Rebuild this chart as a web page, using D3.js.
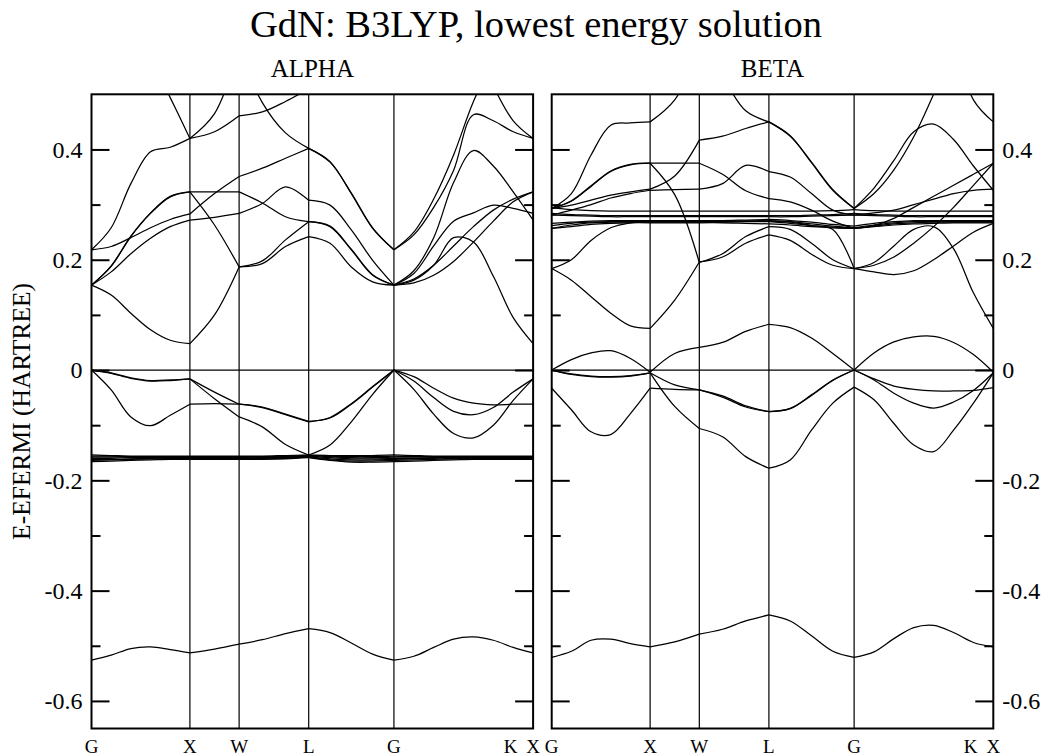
<!DOCTYPE html>
<html><head><meta charset="utf-8">
<script src="https://cdn.jsdelivr.net/npm/d3@7"></script>
<style>body{margin:0;background:#fff}</style>
</head><body>
<svg id="chart" width="1046" height="756"></svg>
<script>
// ---------------- data ----------------
// k-path distances of the sampled points (G X W L G K X)
const kPoints = [0,0.2,0.4,0.6,0.8,1.0, 1.25,1.5, 1.7357,1.9714,2.2071, 2.4236,2.6401,2.8567,3.0731, 3.2751,3.4772,3.6792,3.8812,4.0833,4.2853,4.4873];
const segmentBreaks = [0,5,7,10,14,21];
const kLabels = ["G","X","W","L","G","K","X"];
const kLabelPos = [0,1.0,1.5,2.2071,3.0731,4.258,4.4873];
const kLinePos = [1.0,1.5,2.2071,3.0731];
const yTickValues = [-0.6,-0.4,-0.2,0,0.2,0.4];
const yTickLabels = ["-0.6","-0.4","-0.2","0","0.2","0.4"];
const yMinorTicks = [-0.5,-0.3,-0.1,0.1,0.3];

// ALPHA bands (Hartree, relative to Fermi level)
const alphaN2s = [-0.526,-0.517,-0.505,-0.502,-0.507,-0.513, -0.506,-0.497, -0.489,-0.478,-0.469, -0.476,-0.495,-0.515,-0.526, -0.519,-0.503,-0.488,-0.484,-0.490,-0.503,-0.513];
const alphaP1 = [0,-0.006,-0.015,-0.020,-0.019,-0.016, -0.040,-0.062, -0.068,-0.081,-0.094, -0.086,-0.061,-0.030,0, -0.020,-0.050,-0.075,-0.081,-0.068,-0.040,-0.016];
const alphaP2 = [0,-0.005,-0.014,-0.019,-0.018,-0.016, -0.052,-0.085, -0.103,-0.135,-0.154, -0.136,-0.094,-0.044,0, -0.035,-0.080,-0.115,-0.123,-0.100,-0.055,-0.016];
const alphaP3 = [0,-0.036,-0.085,-0.101,-0.082,-0.062, -0.061,-0.062, -0.067,-0.080,-0.093, -0.087,-0.062,-0.031,0, -0.012,-0.033,-0.051,-0.060,-0.063,-0.062,-0.062];
const alphaF1 = [-0.154,-0.155,-0.156,-0.156,-0.156,-0.156, -0.156,-0.156, -0.156,-0.155,-0.154, -0.155,-0.155,-0.155,-0.154, -0.155,-0.156,-0.156,-0.156,-0.156,-0.156,-0.156];
const alphaF2 = [-0.156,-0.156,-0.157,-0.157,-0.157,-0.157, -0.157,-0.157, -0.157,-0.156,-0.155, -0.156,-0.157,-0.157,-0.156, -0.157,-0.157,-0.157,-0.157,-0.157,-0.157,-0.157];
const alphaF3 = [-0.158,-0.158,-0.158,-0.158,-0.158,-0.158, -0.158,-0.158, -0.158,-0.157,-0.155, -0.157,-0.159,-0.159,-0.158, -0.158,-0.158,-0.158,-0.158,-0.158,-0.158,-0.158];
const alphaF4 = [-0.160,-0.160,-0.159,-0.159,-0.159,-0.159, -0.159,-0.159, -0.159,-0.158,-0.156, -0.159,-0.161,-0.161,-0.160, -0.160,-0.159,-0.159,-0.159,-0.159,-0.159,-0.159];
const alphaF5 = [-0.162,-0.162,-0.161,-0.160,-0.160,-0.160, -0.160,-0.160, -0.160,-0.159,-0.157, -0.161,-0.163,-0.163,-0.162, -0.161,-0.160,-0.160,-0.160,-0.160,-0.160,-0.160];
const alphaF6 = [-0.164,-0.163,-0.162,-0.161,-0.161,-0.161, -0.161,-0.161, -0.161,-0.160,-0.158, -0.163,-0.165,-0.165,-0.164, -0.163,-0.162,-0.161,-0.161,-0.161,-0.161,-0.161];
const alphaF7 = [-0.166,-0.165,-0.164,-0.163,-0.162,-0.162, -0.162,-0.162, -0.162,-0.161,-0.159, -0.164,-0.167,-0.167,-0.166, -0.165,-0.164,-0.163,-0.162,-0.162,-0.162,-0.162];
const alphaC1 = [0.218,0.258,0.338,0.396,0.404,0.420, 0.432,0.461, 0.468,0.487,0.510, null,null,null,null, null,null,null,null,null,null,null];
const alphaC2 = [null,null,0.640,0.565,0.494,0.420, 0.465,0.580, 0.485,0.430,0.402, 0.378,0.320,0.257,0.218, 0.245,0.295,0.362,0.463,0.452,0.432,0.420];
const alphaC3 = [0.218,0.224,0.240,0.258,0.273,0.283, 0.320,0.351, 0.366,0.384,0.402, 0.377,0.321,0.258,0.218, 0.250,0.310,0.390,0.487,0.560,null,null];
const alphaC4 = [0.154,0.188,0.242,0.284,0.314,0.323, 0.323,0.323, 0.303,0.278,0.269, 0.260,0.218,0.172,0.154, 0.158,0.172,0.197,0.232,0.270,0.305,0.323];
const alphaC5 = [0.154,0.189,0.243,0.285,0.315,0.323, 0.263,0.187, 0.198,0.236,0.269, 0.261,0.219,0.173,0.154, 0.165,0.190,0.225,0.260,0.290,0.310,0.323];
const alphaC6 = [0.154,0.178,0.211,0.239,0.260,0.272, 0.277,0.284, 0.302,0.332,0.308, 0.299,0.254,0.199,0.154, 0.175,0.225,0.270,0.285,0.299,0.293,0.284];
const alphaC7 = [0.154,0.136,0.103,0.073,0.054,0.048, 0.100,0.187, 0.193,0.224,0.242, 0.230,0.187,0.160,0.154, 0.163,0.190,0.240,0.232,0.170,0.095,0.048];
const alphaC8 = [null,null,null,null,null,null, null,null, null,null,null, null,null,null,0.154, 0.180,0.240,0.340,0.398,0.370,0.323,0.272];
const alphaC9 = [null,null,null,null,null,null, null,null, null,null,null, null,null,null,null, null,null,null,0.600,0.515,0.452,0.420];

// BETA bands
const betaN2s = [-0.521,-0.510,-0.490,-0.488,-0.496,-0.502, -0.493,-0.479, -0.470,-0.455,-0.444, -0.455,-0.482,-0.510,-0.521, -0.511,-0.487,-0.467,-0.463,-0.476,-0.494,-0.502];
const betaB1 = [0,0.019,0.031,0.035,0.021,-0.004, 0.030,0.041, 0.050,0.070,0.083, 0.077,0.058,0.030,0, 0.031,0.051,0.060,0.061,0.050,0.028,-0.004];
const betaB2 = [0,-0.008,-0.012,-0.013,-0.011,-0.005, -0.027,-0.036, -0.047,-0.065,-0.0755, -0.0695,-0.045,-0.018,0, -0.018,-0.042,-0.060,-0.069,-0.058,-0.037,-0.005];
const betaB3 = [0,-0.007,-0.011,-0.012,-0.010,-0.005, -0.066,-0.106, -0.121,-0.157,-0.178, -0.163,-0.109,-0.060,-0.031, -0.054,-0.097,-0.136,-0.148,-0.109,-0.060,-0.005];
const betaB4 = [-0.033,-0.072,-0.112,-0.117,-0.079,-0.033, -0.035,-0.036, -0.049,-0.067,-0.0755, -0.0700,-0.046,-0.019,0, -0.016,-0.029,-0.035,-0.038,-0.038,-0.037,-0.032];
const betaF1 = [0.294,0.291,0.289,0.288,0.288,0.288, 0.288,0.288, 0.288,0.288,0.288, 0.288,0.288,0.289,0.291, 0.289,0.288,0.288,0.288,0.288,0.288,0.288];
const betaF2 = [0.284,0.282,0.281,0.280,0.280,0.280, 0.280,0.280, 0.280,0.280,0.280, 0.280,0.281,0.282,0.284, 0.282,0.281,0.280,0.280,0.280,0.280,0.280];
const betaF3 = [0.281,0.280,0.279,0.278,0.278,0.278, 0.278,0.278, 0.278,0.278,0.278, 0.278,0.279,0.280,0.281, 0.280,0.279,0.278,0.278,0.278,0.278,0.278];
const betaF4 = [0.266,0.268,0.270,0.271,0.271,0.271, 0.271,0.271, 0.271,0.272,0.273, 0.271,0.268,0.264,0.261, 0.266,0.269,0.271,0.271,0.271,0.271,0.271];
const betaF5 = [0.262,0.266,0.268,0.269,0.269,0.269, 0.269,0.269, 0.269,0.270,0.271, 0.269,0.265,0.261,0.258, 0.263,0.267,0.269,0.269,0.269,0.269,0.269];
const betaF6 = [0.257,0.263,0.267,0.268,0.268,0.268, 0.268,0.268, 0.268,0.269,0.269, 0.266,0.262,0.259,0.257, 0.261,0.265,0.267,0.268,0.268,0.268,0.268];
const betaF7 = [0.257,0.260,0.264,0.266,0.267,0.267, 0.267,0.267, 0.267,0.266,0.265, 0.263,0.260,0.258,0.257, 0.260,0.263,0.265,0.266,0.267,0.267,0.267];
const betaC1 = [0.293,0.320,0.390,0.444,0.448,0.450, 0.490,0.580, 0.530,0.470,0.450, 0.425,0.376,0.326,0.293, 0.330,0.380,0.432,0.446,0.418,0.370,0.326];
const betaC2 = [0.293,0.306,0.333,0.360,0.372,0.375, 0.375,0.375, 0.355,0.325,0.311, 0.305,0.290,0.270,0.257, 0.262,0.275,0.295,0.315,0.335,0.355,0.375];
const betaC3 = [0.293,0.307,0.334,0.361,0.373,0.375, 0.318,0.195, 0.211,0.242,0.260, 0.255,0.230,0.200,0.184, 0.190,0.205,0.230,0.260,0.295,0.335,0.375];
const betaC4 = [0.293,0.299,0.308,0.317,0.323,0.328, 0.352,0.417, 0.424,0.438,0.450, 0.424,0.377,0.327,0.293, 0.320,0.363,0.423,0.500,0.580,null,null];
const betaC5 = [0.281,0.290,0.300,0.312,0.320,0.326, 0.327,0.328, 0.338,0.371,0.360, 0.350,0.320,0.290,0.281, 0.285,0.290,0.300,0.310,0.320,0.326,0.328];
const betaC6 = [0.184,0.163,0.133,0.103,0.080,0.0755, 0.127,0.196, 0.205,0.230,0.245, 0.235,0.210,0.190,0.184, 0.195,0.225,0.255,0.260,0.220,0.140,0.0755];
const betaC7 = [0.184,0.200,0.235,0.258,0.267,0.270, 0.270,0.270, 0.270,0.270,0.270, 0.268,0.262,0.255,0.184, 0.178,0.173,0.180,0.200,0.225,0.250,0.266];
const betaC8 = [null,null,null,null,null,null, null,null, null,null,null, null,null,null,null, null,null,null,null,0.600,0.490,0.450];

const alphaBands = [alphaN2s,alphaP1,alphaP2,alphaP3,alphaF1,alphaF2,alphaF3,alphaF4,alphaF5,alphaF6,alphaF7,alphaC1,alphaC2,alphaC3,alphaC4,alphaC5,alphaC6,alphaC7,alphaC8,alphaC9];
const betaBands = [betaN2s,betaB1,betaB2,betaB3,betaB4,betaF1,betaF2,betaF3,betaF4,betaF5,betaF6,betaF7,betaC1,betaC2,betaC3,betaC4,betaC5,betaC6,betaC7,betaC8];

// ---------------- drawing ----------------
const svg = d3.select("#chart");
const FONT = "'Liberation Serif','Times New Roman',Times,serif";
svg.style("font-family", FONT);
const yTop = 94.3, yBot = 728.5;
const y = d3.scaleLinear().domain([-0.65, 0.5]).range([yBot, yTop]);

svg.append("rect").attr("width",1046).attr("height",756).attr("fill","#fff");

const panels = [
  {title:"ALPHA", x0:91.5, x1:533.1, bands:alphaBands, labelSide:"left", id:"a"},
  {title:"BETA",  x0:551.7, x1:993.3, bands:betaBands, labelSide:"right", id:"b"}
];

panels.forEach(p => {
  const x = d3.scaleLinear().domain([0, kPoints[kPoints.length-1]]).range([p.x0, p.x1]);
  const g = svg.append("g");
  g.append("clipPath").attr("id","clip-"+p.id)
    .append("rect").attr("x",p.x0).attr("y",yTop).attr("width",p.x1-p.x0).attr("height",yBot-yTop);

  const inner = g.append("g").attr("clip-path","url(#clip-"+p.id+")");
  inner.selectAll("line.k").data(kLinePos).enter().append("line")
    .attr("x1",d=>x(d)).attr("x2",d=>x(d)).attr("y1",yTop).attr("y2",yBot)
    .attr("stroke","#000").attr("stroke-width",1.2);
  inner.append("line").attr("x1",p.x0).attr("x2",p.x1).attr("y1",y(0)).attr("y2",y(0))
    .attr("stroke","#000").attr("stroke-width",1.2);

  const line = d3.line().defined(d=>d[1]!==null).x(d=>x(d[0])).y(d=>y(d[1]))
    .curve(d3.curveCatmullRom.alpha(0.5));
  p.bands.forEach(band => {
    for (let s=0; s<segmentBreaks.length-1; s++) {
      const pts = [];
      for (let i=segmentBreaks[s]; i<=segmentBreaks[s+1]; i++) pts.push([kPoints[i], band[i]]);
      inner.append("path").attr("d", line(pts)).attr("fill","none")
        .attr("stroke","#000").attr("stroke-width",1.25);
    }
  });

  const majL = d3.axisLeft(y).tickValues(yTickValues).tickSizeInner(-18).tickSizeOuter(0).tickPadding(9)
    .tickFormat((d,i)=> p.labelSide==="left" ? yTickLabels[i] : "");
  const minL = d3.axisLeft(y).tickValues(yMinorTicks).tickSizeInner(-9).tickSizeOuter(0).tickFormat("");
  const majR = d3.axisRight(y).tickValues(yTickValues).tickSizeInner(-18).tickSizeOuter(0).tickPadding(9)
    .tickFormat((d,i)=> p.labelSide==="right" ? yTickLabels[i] : "");
  const minR = d3.axisRight(y).tickValues(yMinorTicks).tickSizeInner(-9).tickSizeOuter(0).tickFormat("");
  [[majL,p.x0],[minL,p.x0],[majR,p.x1],[minR,p.x1]].forEach(([ax,xx]) => {
    const a = g.append("g").attr("transform",`translate(${xx},0)`).call(ax);
    a.attr("font-family",null);
    a.select(".domain").remove();
    a.selectAll(".tick line").attr("stroke","#000").attr("stroke-width",2);
    a.selectAll(".tick text").style("font-family",FONT).attr("font-size",24).attr("fill","#000");
  });

  g.append("rect").attr("x",p.x0).attr("y",yTop).attr("width",p.x1-p.x0).attr("height",yBot-yTop)
    .attr("fill","none").attr("stroke","#000").attr("stroke-width",2);

  g.selectAll("text.kl").data(kLabels).enter().append("text")
    .attr("x",(d,i)=>x(kLabelPos[i])).attr("y",753).attr("text-anchor","middle")
    .style("font-family",FONT).attr("font-size",19).text(d=>d);

  g.append("text").attr("x",(p.x0+p.x1)/2).attr("y",77).attr("text-anchor","middle")
    .style("font-family",FONT).attr("font-size",25).text(p.title);
});

svg.append("text").attr("x",536).attr("y",37).attr("text-anchor","middle")
  .style("font-family",FONT).attr("font-size",38.5).text("GdN: B3LYP, lowest energy solution");
svg.append("text").attr("transform",`translate(30,${(yTop+yBot)/2}) rotate(-90)`)
  .attr("text-anchor","middle").style("font-family",FONT).attr("font-size",25.5)
  .text("E-EFERMI (HARTREE)");
</script>
</body></html>
